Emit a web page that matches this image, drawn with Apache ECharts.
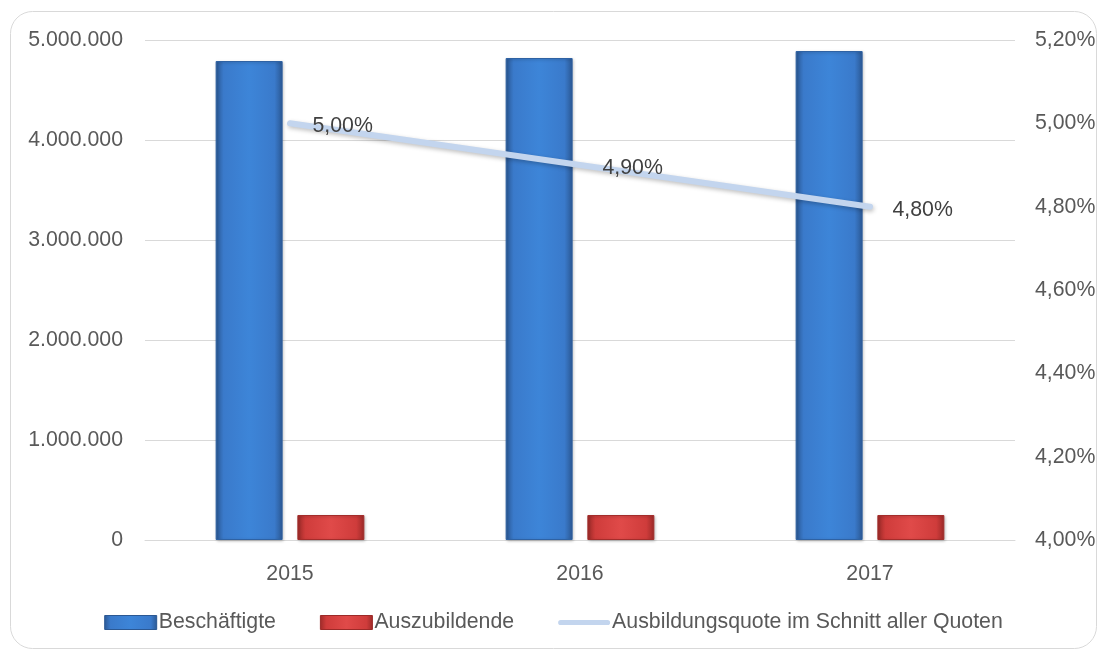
<!DOCTYPE html>
<html><head><meta charset="utf-8">
<script src="https://cdn.jsdelivr.net/npm/echarts@6/dist/echarts.min.js"></script>
<style>html,body{margin:0;padding:0;background:#fff}#c{width:1107px;height:657px}</style>
</head><body><div id="c"></div>
<script>
const years = ['2015', '2016', '2017'];
const beschaeftigte = [4790000, 4820000, 4890000];
const auszubildende = [250000, 250000, 250000];
const quote = [5.00, 4.90, 4.80];
const seriesNames = ['Beschäftigte', 'Auszubildende', 'Ausbildungsquote im Schnitt aller Quoten'];

const FONT = 'Liberation Sans';
const TXT = '#595959';
const FS = 21.3;
const fmtDE = v => String(Math.round(v)).replace(/\B(?=(\d{3})+(?!\d))/g, '.');
const fmtPct = v => v.toFixed(2).replace('.', ',') + '%';

const blueGrad = new echarts.graphic.LinearGradient(0, 0, 1, 0, [
  {offset: 0, color: '#2b5893'}, {offset: 0.12, color: '#3a7acb'},
  {offset: 0.5, color: '#3d85d8'}, {offset: 0.88, color: '#3a7acb'}, {offset: 1, color: '#2b5893'}]);
const redGrad = new echarts.graphic.LinearGradient(0, 0, 1, 0, [
  {offset: 0, color: '#9c2a28'}, {offset: 0.12, color: '#cf3c3b'},
  {offset: 0.5, color: '#e04a49'}, {offset: 0.88, color: '#cf3c3b'}, {offset: 1, color: '#9c2a28'}]);

const chart = echarts.init(document.getElementById('c'), null, {renderer: 'canvas'});
chart.setOption({
  animation: false,
  textStyle: {fontFamily: FONT},
  graphic: [{
    type: 'rect', silent: true, z: -10,
    shape: {x: 10.5, y: 11.5, width: 1086, height: 637, r: 22},
    style: {fill: 'none', stroke: '#d9d9d9', lineWidth: 1}
  }],
  grid: {left: 145, right: 92, top: 40, bottom: 117},
  legend: {
    bottom: 19, left: 'center', itemGap: 44, itemWidth: 52, itemHeight: 14,
    textStyle: {color: TXT, fontSize: FS, fontFamily: FONT, padding: [0, 0, 0, -3]},
    data: [
      {name: seriesNames[0], icon: 'rect', itemStyle: {color: blueGrad, borderColor: '#2b5893', borderWidth: 1}},
      {name: seriesNames[1], icon: 'rect', itemStyle: {color: redGrad, borderColor: '#9c2a28', borderWidth: 1}},
      {name: seriesNames[2], icon: 'path://M3,0 H57 A3,3 0 0 1 57,6 H3 A3,3 0 0 1 3,0 Z', itemStyle: {color: '#c3d5ee', borderWidth: 0, opacity: 1}}
    ]
  },
  xAxis: {
    type: 'category', data: years,
    axisLine: {lineStyle: {color: '#d9d9d9', width: 1}},
    axisTick: {show: false},
    axisLabel: {color: TXT, fontSize: FS, margin: 24, fontFamily: FONT}
  },
  yAxis: [{
    type: 'value', min: 0, max: 5000000, interval: 1000000,
    axisLine: {show: false}, axisTick: {show: false},
    splitLine: {lineStyle: {color: '#d9d9d9', width: 1}},
    axisLabel: {color: TXT, fontSize: FS, margin: 22, formatter: fmtDE, fontFamily: FONT}
  }, {
    type: 'value', min: 4.0, max: 5.2, interval: 0.2,
    axisLine: {show: false}, axisTick: {show: false}, splitLine: {show: false},
    axisLabel: {color: TXT, fontSize: FS, margin: 20, formatter: fmtPct, fontFamily: FONT}
  }],
  series: [{
    name: seriesNames[0], type: 'bar', data: beschaeftigte, barWidth: 67, barGap: '22%',
    itemStyle: {color: blueGrad, borderColor: '#2f62a3', borderWidth: 1,
      shadowColor: 'rgba(0,0,0,0.25)', shadowBlur: 3, shadowOffsetX: 1, shadowOffsetY: 1}
  }, {
    name: seriesNames[1], type: 'bar', data: auszubildende, barWidth: 67,
    itemStyle: {color: redGrad, borderColor: '#a32d2b', borderWidth: 1,
      shadowColor: 'rgba(0,0,0,0.25)', shadowBlur: 3, shadowOffsetX: 1, shadowOffsetY: 1}
  }, {
    name: seriesNames[2], type: 'line', yAxisIndex: 1, data: quote,
    symbol: 'circle', symbolSize: 5, showSymbol: true, z: 5,
    lineStyle: {color: '#c3d5ee', width: 6, cap: 'round',
      shadowColor: 'rgba(0,0,0,0.25)', shadowBlur: 4, shadowOffsetX: 1, shadowOffsetY: 2},
    itemStyle: {color: '#c3d5ee', borderWidth: 0},
    label: {show: true, position: 'right', distance: 20, offset: [0, 3], color: '#404040', fontSize: FS,
      fontFamily: FONT, formatter: p => fmtPct(p.value)}
  }]
});
</script></body></html>
